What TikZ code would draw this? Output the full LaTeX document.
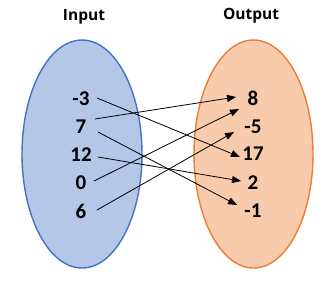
\documentclass[tikz,border=0pt]{standalone}
\usepackage{fontspec}
\setmainfont{Carlito}
\newfontfamily\ttlfont{Open Sans}
\usetikzlibrary{arrows.meta}
\definecolor{inFill}{HTML}{B4C7E7}
\definecolor{inLine}{HTML}{4472C4}
\definecolor{outFill}{HTML}{F8CBAD}
\definecolor{outLine}{HTML}{ED7D31}
\tikzset{
  num/.style={font=\bfseries\fontsize{21}{25}\selectfont, inner sep=0pt},
  ttl/.style={font=\ttlfont\bfseries\fontsize{15.5}{19}\selectfont, inner sep=0pt},
  conn/.style={line width=0.8pt, -{Triangle[length=9pt,width=7pt]}},
}
\begin{document}
\begin{tikzpicture}[x=1pt,y=-1pt]
\useasboundingbox (0,0) rectangle (336,303);
\fill[white] (0,0) rectangle (336,303);
\draw[inLine, fill=inFill, line width=1.4pt] (82,154) ellipse [x radius=60, y radius=114];
\draw[outLine, fill=outFill, line width=1.4pt] (253.5,154) ellipse [x radius=59.5, y radius=114];
\node[ttl] (tin) at (84,17) {Input};
\node[ttl] (tout) at (251,16) {Output};
\node[num] (a1) at (81,99) {-3};
\node[num] (a2) at (81,127) {7};
\node[num] (a3) at (81,155) {12};
\node[num] (a4) at (81,183) {0};
\node[num] (a5) at (81,211) {6};
\node[num] (b1) at (253,98) {8};
\node[num] (b2) at (253,127) {-5};
\node[num] (b3) at (253,154) {17};
\node[num] (b4) at (253,183) {2};
\node[num] (b5) at (253,211) {-1};
\coordinate (s1) at (97,98);
\coordinate (s2a) at (95,119);
\coordinate (s2b) at (98,132);
\coordinate (s3) at (98,157);
\coordinate (s4) at (94,181);
\coordinate (s5) at (97,210);
\coordinate (e1) at (240,157);
\coordinate (e2a) at (236,97);
\coordinate (e2b) at (237,205);
\coordinate (e3) at (241,181);
\coordinate (e4) at (239,109);
\coordinate (e5) at (234,132);
\draw[conn] (s1) -- (e1);
\draw[conn] (s2a) -- (e2a);
\draw[conn] (s2b) -- (e2b);
\draw[conn] (s3) -- (e3);
\draw[conn] (s4) -- (e4);
\draw[conn] (s5) -- (e5);
\end{tikzpicture}
\end{document}
